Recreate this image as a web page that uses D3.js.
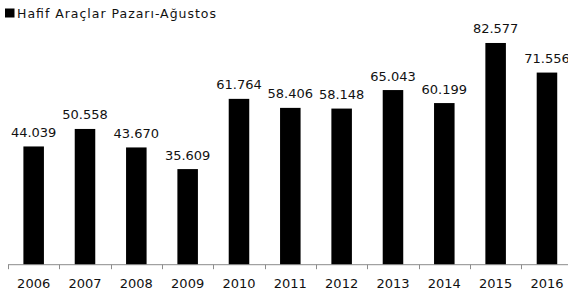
<!DOCTYPE html>
<html>
<head>
<meta charset="utf-8">
<script src="https://cdn.jsdelivr.net/npm/d3@7"></script>
<style>
  html, body { margin: 0; padding: 0; background: #fff; }
  svg { display: block; }
  text { font-family: "DejaVu Sans", sans-serif; fill: #111; }
</style>
</head>
<body>
<svg id="chart" width="568" height="297"></svg>
<script>
const years = ["2006","2007","2008","2009","2010","2011","2012","2013","2014","2015","2016"];
const values = [44039, 50558, 43670, 35609, 61764, 58406, 58148, 65043, 60199, 82577, 71556];
const seriesName = "Hafif Araçlar Pazarı-Ağustos";

const svg = d3.select("#chart");
const baseY = 264.7;
const step = 51.33;

const x = d3.scaleBand()
  .domain(years)
  .range([8, 8 + step * years.length])
  .paddingInner(0.6)
  .paddingOuter(0.3);

const y = d3.scaleLinear().domain([0, 90000]).range([baseY, baseY - 90 * 2.685]);

const fmt = d3.formatLocale({decimal: ",", thousands: ".", grouping: [3], currency: ["", ""]}).format(",d");

// bars
svg.append("g").selectAll("rect").data(values).join("rect")
  .attr("x", (d, i) => x(years[i]))
  .attr("y", d => y(d))
  .attr("width", x.bandwidth())
  .attr("height", d => y(0) - y(d))
  .attr("fill", "#000");

// value labels
svg.append("g").selectAll("text").data(values).join("text")
  .attr("x", (d, i) => x(years[i]) + x.bandwidth() / 2)
  .attr("y", d => y(d) - 9.5)
  .attr("text-anchor", "middle")
  .style("font-size", "13px")
  .text(d => fmt(d));

// axis line
const axisG = svg.append("g");
axisG.append("line")
  .attr("x1", 8).attr("x2", 568)
  .attr("y1", baseY).attr("y2", baseY)
  .attr("stroke", "#8c8c8c").attr("stroke-width", 1);

// tick marks at band boundaries
const bounds = years.map(yr => x(yr) - x.step() * x.paddingInner() / 2);
axisG.selectAll("line.tick").data(bounds).join("line")
  .attr("class", "tick")
  .attr("x1", d => Math.round(d) + 0.5).attr("x2", d => Math.round(d) + 0.5)
  .attr("y1", baseY).attr("y2", baseY + 4.5)
  .attr("stroke", "#8c8c8c").attr("stroke-width", 1);

// year labels
axisG.selectAll("text").data(years).join("text")
  .attr("x", d => x(d) + x.bandwidth() / 2)
  .attr("y", 287.5)
  .attr("text-anchor", "middle")
  .style("font-size", "13px")
  .text(d => d);

// legend
svg.append("rect").attr("x", 5).attr("y", 8.5).attr("width", 9.5).attr("height", 9).attr("fill", "#000");
svg.append("text")
  .attr("x", 17).attr("y", 17.5)
  .style("font-size", "12.5px")
  .attr("textLength", 199)
  .attr("lengthAdjust", "spacing")
  .text(seriesName);
</script>
</body>
</html>
